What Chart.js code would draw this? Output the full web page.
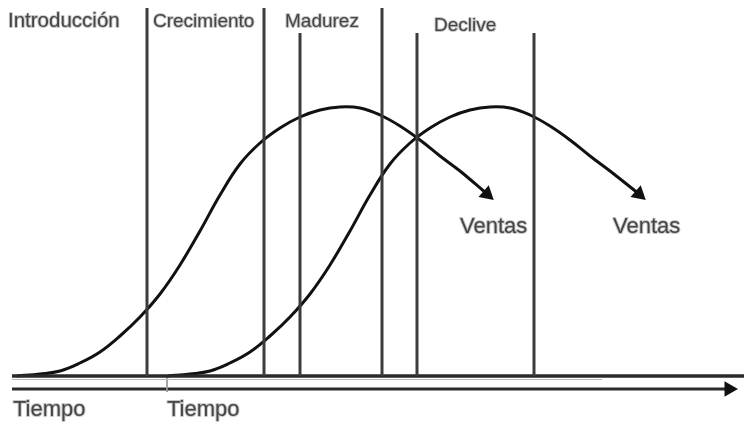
<!DOCTYPE html>
<html>
<head>
<meta charset="utf-8">
<script src="https://cdn.jsdelivr.net/npm/chart.js@4/dist/chart.umd.min.js"></script>
<style>
  html, body { margin: 0; padding: 0; background: #fff; }
  #wrap { width: 744px; height: 424px; position: relative; }
</style>
</head>
<body>
<div id="wrap"><canvas id="cycleChart"></canvas></div>
<script>
// tiempo (x) y ventas (y) de las dos curvas de ciclo de vida
const tiempo1 = [17, 40, 60, 80, 100, 120, 140, 160, 180, 200, 220, 240, 260, 280, 300, 320, 340, 360, 380, 400, 420, 440, 460, 487];
const ventas1 = [0, 2, 5, 13, 24, 40, 59, 82, 111, 145, 181, 212, 233, 248, 259, 266, 269, 268, 261, 250, 236, 220, 205, 182];
const tiempo2 = [168, 190, 210, 230, 250, 270, 290, 310, 330, 350, 370, 390, 410, 430, 450, 470, 490, 510, 530, 550, 570, 590, 610, 639];
const ventas2 = [0, 2, 5, 13, 24, 40, 59, 82, 111, 145, 181, 212, 233, 248, 259, 266, 269, 268, 261, 250, 236, 220, 205, 182];

// separaciones entre etapas
const etapas = [147, 264, 300, 382, 417, 534];
const etapasTope = [368, 368, 343, 368, 343, 343];

// ejes de tiempo
const ejeInicio = 12;
const ejeFin = 744;
const flechaFin = 729;
const ejeTiempoY = -13;

const etiquetas = [
  { text: "Introducción", x: 8, y: 349, size: 20.5 },
  { text: "Crecimiento", x: 153, y: 349, size: 19 },
  { text: "Madurez", x: 285, y: 349, size: 19 },
  { text: "Declive", x: 434, y: 345, size: 19 },
  { text: "Ventas", x: 460, y: 143, size: 22 },
  { text: "Ventas", x: 613, y: 143, size: 22 },
  { text: "Tiempo", x: 13, y: -40, size: 22 },
  { text: "Tiempo", x: 167, y: -40, size: 22 },
];

const toPoints = (xs, ys) => xs.map((x, i) => ({ x, y: ys[i] }));
const arrowAt = (n, angle) => ({
  radius: Array.from({ length: n }, (_, i) => (i === n - 1 ? 6 : 0)),
  rotation: Array.from({ length: n }, (_, i) => (i === n - 1 ? angle : 0)),
});

const a1 = arrowAt(tiempo1.length, 131);
const a2 = arrowAt(tiempo2.length, 131);

const datasets = [];

etapas.forEach((x, i) => {
  datasets.push({
    data: [{ x, y: 0 }, { x, y: etapasTope[i] }],
    borderColor: "#3c3c3c",
    borderWidth: 3,
    pointRadius: 0,
    showLine: true,
  });
});

datasets.push({
  data: [{ x: ejeInicio, y: 0 }, { x: ejeFin, y: 0 }],
  borderColor: "#2a2a2a",
  borderWidth: 3.5,
  pointRadius: 0,
  showLine: true,
});
datasets.push({
  data: [{ x: ejeInicio, y: -3.5 }, { x: 602, y: -3.5 }],
  borderColor: "#bbbbbb",
  borderWidth: 1,
  pointRadius: 0,
  showLine: true,
});
datasets.push({
  data: [{ x: 167, y: 0 }, { x: 167, y: -16 }],
  borderColor: "#999999",
  borderWidth: 1,
  pointRadius: 0,
  showLine: true,
});
datasets.push({
  data: [{ x: ejeInicio, y: ejeTiempoY }, { x: flechaFin, y: ejeTiempoY }],
  borderColor: "#2a2a2a",
  borderWidth: 3,
  pointRadius: [0, 6],
  pointRotation: [0, 90],
  pointStyle: "triangle",
  pointBackgroundColor: "#111",
  pointBorderColor: "#111",
  showLine: true,
});

[[tiempo1, ventas1, a1], [tiempo2, ventas2, a2]].forEach(([xs, ys, arrow]) => {
  datasets.push({
    data: toPoints(xs, ys),
    borderColor: "#111",
    borderWidth: 3,
    tension: 0.4,
    pointStyle: "triangle",
    pointRadius: arrow.radius,
    pointRotation: arrow.rotation,
    pointBackgroundColor: "#111",
    pointBorderColor: "#111",
    showLine: true,
  });
});

const labelPlugin = {
  id: "etiquetas",
  afterDatasetsDraw(chart) {
    const { ctx, scales } = chart;
    ctx.save();
    ctx.textAlign = "left";
    ctx.textBaseline = "alphabetic";
    ctx.lineJoin = "round";
    etiquetas.forEach((lab) => {
      const px = scales.x.getPixelForValue(lab.x);
      const py = scales.y.getPixelForValue(lab.y);
      ctx.font = `${lab.size}px "Liberation Sans", Arial, sans-serif`;
      ctx.strokeStyle = "rgba(0,0,0,0.22)";
      ctx.lineWidth = 2;
      ctx.strokeText(lab.text, px, py);
      ctx.fillStyle = "#454545";
      ctx.fillText(lab.text, px, py);
    });
    ctx.restore();
  },
};

new Chart(document.getElementById("cycleChart"), {
  type: "scatter",
  data: { datasets },
  options: {
    responsive: true,
    maintainAspectRatio: false,
    animation: false,
    events: [],
    clip: false,
    layout: { padding: 0, autoPadding: false },
    plugins: {
      legend: { display: false },
      tooltip: { enabled: false },
    },
    scales: {
      x: { type: "linear", display: false, min: 0, max: 744 },
      y: { type: "linear", display: false, min: -48, max: 376 },
    },
  },
  plugins: [labelPlugin],
});
</script>
</body>
</html>
